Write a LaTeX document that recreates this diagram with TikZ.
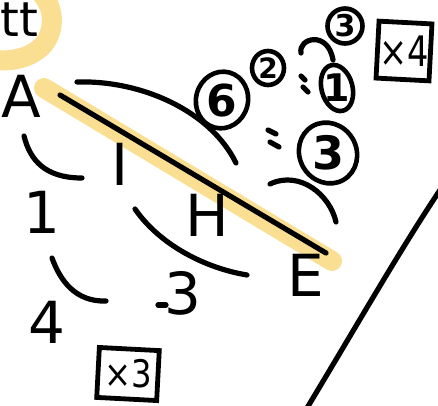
\documentclass[tikz,border=0pt]{standalone}
\usepackage{fontspec}
\setmainfont{DejaVu Sans}
\usetikzlibrary{shapes.geometric}
\begin{document}
\begin{tikzpicture}[x=1pt,y=-1pt,
  pen/.style={line width=5.2pt,line cap=round,line join=round,black},
  hl/.style={line width=20pt,line cap=round,line join=round,color=hlyellow,opacity=0.8},
  lbl/.style={font=\fontsize{58}{58}\selectfont,inner sep=0pt},
  circ/.style={draw,ellipse,line width=4.6pt,inner sep=0pt},
  boxed/.style={draw,line width=4.8pt,inner sep=0pt}]
\definecolor{hlyellow}{RGB}{249,215,120}
\useasboundingbox (0,0) rectangle (438,405);
\clip (0,0) rectangle (438,405);
% highlights
\draw[hl] (40,-8) .. controls (54,6) and (56,28) .. (44,44) .. controls (32,58) and (12,62) .. (-8,60);
\coordinate (h1) at (44,88);
\coordinate (h2) at (332,261);
\draw[hl] (h1) -- (h2);
% text
\node[font=\fontsize{48}{48}\selectfont,inner sep=0pt,anchor=base west] (tt) at (0.5,36) {tt};
\node[lbl] (A) at (21,96) {A};
\node[lbl] (I) at (120,164) {I};
\node[lbl] (one) at (42,212) {1};
\node[lbl] (H) at (207,215) {H};
\node[lbl] (E) at (306,275) {E};
\node[lbl] (three) at (183,293) {3};
\node[lbl] (four) at (47,322) {4};
% main line
\coordinate (l1) at (60,95);
\coordinate (l2) at (326,253);
\draw[pen] (l1) -- (l2);
% arcs
\coordinate (a1) at (77,82);  \coordinate (a2) at (236,163);
\draw[pen] (a1) .. controls (140,80) and (210,110) .. (a2);
\coordinate (b1) at (24,136); \coordinate (b2) at (82,178);
\draw[pen] (b1) .. controls (30,160) and (45,178) .. (b2);
\coordinate (c1) at (135,209); \coordinate (c2) at (247,275);
\draw[pen] (c1) .. controls (160,245) and (205,268) .. (c2);
\coordinate (d1) at (270,184); \coordinate (d2) at (336,222);
\draw[pen] (d1) .. controls (300,170) and (330,195) .. (d2);
\coordinate (e1) at (52,258); \coordinate (e2) at (106,301);
\draw[pen] (e1) .. controls (60,280) and (75,302) .. (e2);
\coordinate (f1) at (158,305); \coordinate (f2) at (166,305);
\draw[pen] (f1) -- (f2);
% long line
\coordinate (g1) at (307,408); \coordinate (g2) at (440,190);
\draw[pen] (g1) .. controls (360,320) and (400,250) .. (g2);
% circled numbers
\node[circ,minimum width=52pt,minimum height=57pt,rotate=-15] (c6) at (222,100) {};
\node[font=\bfseries\fontsize{44}{44}\selectfont,inner sep=0pt] at (c6) {6};
\node[circ,minimum width=32pt,minimum height=34pt] (c2) at (268,68) {};
\node[font=\bfseries\fontsize{28}{28}\selectfont,inner sep=0pt] at (c2) {2};
\node[circ,minimum width=31pt,minimum height=47pt,rotate=15] (c1) at (337,88) {};
\node[font=\bfseries\fontsize{38}{38}\selectfont,inner sep=0pt] at (c1) {1};
\node[circ,minimum width=35pt,minimum height=35pt] (c3) at (345,26) {};
\node[font=\bfseries\fontsize{30}{30}\selectfont,inner sep=0pt] at (c3) {3};
\node[circ,minimum width=57pt,minimum height=62pt,rotate=30] (c32) at (328,153) {};
\node[font=\bfseries\fontsize{46}{46}\selectfont,inner sep=0pt] at (c32) {3};
% colons / marks
\draw[pen] (301,76) -- (305,80);
\draw[pen] (303,87) -- (308,92);
\draw[pen] (268,130) -- (276,134);
\draw[pen] (270,142) -- (279,147);
\coordinate (k1) at (301,53); \coordinate (k2) at (333,60);
\draw[pen] (k1) .. controls (298,38) and (328,30) .. (k2);
% boxes
\node[boxed,minimum width=53pt,minimum height=57pt,rotate=-3] (x4) at (404,51) {};
\node[font=\fontsize{42}{42}\selectfont,inner sep=0pt,xscale=0.8] at (x4) {×4};
\node[boxed,minimum width=60pt,minimum height=50pt,rotate=-3] (x3) at (128,374) {};
\node[font=\fontsize{38}{38}\selectfont,inner sep=0pt,xscale=0.85] at (x3) {×3};
\end{tikzpicture}
\end{document}
